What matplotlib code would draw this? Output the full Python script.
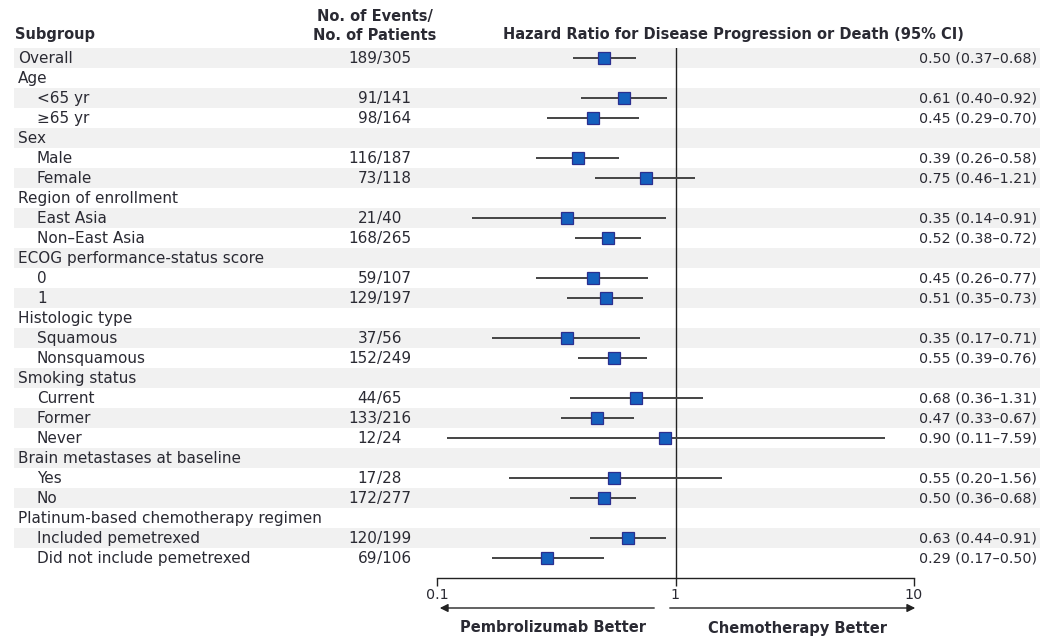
import matplotlib
matplotlib.use("Agg")
import matplotlib.pyplot as plt
import numpy as np

plt.rcParams['font.family'] = ['DejaVu Sans']

labels = ["Overall", "Age", "<65 yr", "\u226565 yr", "Sex", "Male", "Female",
          "Region of enrollment", "East Asia", "Non\u2013East Asia",
          "ECOG performance-status score", "0", "1", "Histologic type",
          "Squamous", "Nonsquamous", "Smoking status", "Current", "Former", "Never",
          "Brain metastases at baseline", "Yes", "No",
          "Platinum-based chemotherapy regimen", "Included pemetrexed",
          "Did not include pemetrexed"]
is_sub = [False, False, True, True, False, True, True, False, True, True,
          False, True, True, False, True, True, False, True, True, True,
          False, True, True, False, True, True]
events = ["189/305", None, "91/141", "98/164", None, "116/187", "73/118", None,
          "21/40", "168/265", None, "59/107", "129/197", None, "37/56", "152/249",
          None, "44/65", "133/216", "12/24", None, "17/28", "172/277", None,
          "120/199", "69/106"]
hr = [0.50, None, 0.61, 0.45, None, 0.39, 0.75, None, 0.35, 0.52, None, 0.45, 0.51,
      None, 0.35, 0.55, None, 0.68, 0.47, 0.90, None, 0.55, 0.50, None, 0.63, 0.29]
lo = [0.37, None, 0.40, 0.29, None, 0.26, 0.46, None, 0.14, 0.38, None, 0.26, 0.35,
      None, 0.17, 0.39, None, 0.36, 0.33, 0.11, None, 0.20, 0.36, None, 0.44, 0.17]
hi = [0.68, None, 0.92, 0.70, None, 0.58, 1.21, None, 0.91, 0.72, None, 0.77, 0.73,
      None, 0.71, 0.76, None, 1.31, 0.67, 7.59, None, 1.56, 0.68, None, 0.91, 0.50]
xticks = [0.1, 1, 10]
xticklabels = ["0.1", "1", "10"]

W, H = 1047, 636
fig = plt.figure(figsize=(W / 100, H / 100), dpi=100)
bg = fig.add_axes([0, 0, 1, 1])
bg.set_xlim(0, W)
bg.set_ylim(H, 0)
bg.axis('off')

txt = '#2a2a33'
fs = 11.0
fsn = 10.3
fsb = 10.5
row0, step = 58, 20
n = len(labels)
for i in range(n):
    y = row0 + step * i
    if i % 2 == 0:
        bg.add_patch(plt.Rectangle((14, y - 10), 1026, 20, color='#f1f1f1', lw=0, zorder=0))
    bg.text(37 if is_sub[i] else 18, y + 0.5, labels[i], fontsize=fs, color=txt, va='center', ha='left')
    if events[i]:
        num, den = events[i].split('/')
        bg.text(377, y + 0.5, num, fontsize=fs, color=txt, va='center', ha='right')
        bg.text(377, y + 0.5, '/' + den, fontsize=fs, color=txt, va='center', ha='left')
    if hr[i] is not None:
        s = f"{hr[i]:.2f} ({lo[i]:.2f}\u2013{hi[i]:.2f})"
        bg.text(1037, y + 0.5, s, fontsize=fsn, color=txt, va='center', ha='right')

bg.text(15, 35, "Subgroup", fontsize=fsb, fontweight='bold', color=txt, va='center', ha='left')
bg.text(375, 26, "No. of Events/\nNo. of Patients", fontsize=fsb, fontweight='bold', color=txt,
        va='center', ha='center', linespacing=1.3)
bg.text(733, 35, "Hazard Ratio for Disease Progression or Death (95% CI)", fontsize=fsb,
        fontweight='bold', color=txt, va='center', ha='center')

# arrows
ay = 608
bg.annotate('', xy=(437, ay), xytext=(657, ay),
            arrowprops=dict(arrowstyle='-|>', color='#222', lw=1.0, mutation_scale=12))
bg.annotate('', xy=(918, ay), xytext=(667, ay),
            arrowprops=dict(arrowstyle='-|>', color='#222', lw=1.0, mutation_scale=12))
bg.text(553, 628, "Pembrolizumab Better", fontsize=fsb, fontweight='bold', color=txt, va='center', ha='center')
bg.text(798, 628, "Chemotherapy Better", fontsize=fsb, fontweight='bold', color=txt, va='center', ha='center')

# forest axes
x0, x1 = 437, 914
ytop, ybot = 48, 578
ax = fig.add_axes([x0 / W, 1 - ybot / H, (x1 - x0) / W, (ybot - ytop) / H])
ax.patch.set_alpha(0)
ax.set_xscale('log')
ax.set_xlim(0.1, 10)
ax.set_ylim((ybot - row0) / step, (ytop - row0) / step)
for sp in ['top', 'left', 'right']:
    ax.spines[sp].set_visible(False)
ax.spines['bottom'].set_color('#222')
ax.spines['bottom'].set_linewidth(1.0)
ax.set_yticks([])
ax.set_xticks(xticks)
ax.set_xticklabels(xticklabels, fontsize=fsn, color=txt)
ax.minorticks_off()
ax.tick_params(axis='x', length=6, width=1.0, color='#222', pad=1)
ax.axvline(1, color='#222', lw=1.0, zorder=1)
for i in range(n):
    if hr[i] is None:
        continue
    ax.plot([lo[i], hi[i]], [i, i], color='#444444', lw=1.4, zorder=2, solid_capstyle='butt')
    ax.plot([hr[i]], [i], marker='s', ms=8, mfc='#1560bd', mec='#2b2f8f', mew=0.9, zorder=3)

fig.savefig('out.png', dpi=100)
